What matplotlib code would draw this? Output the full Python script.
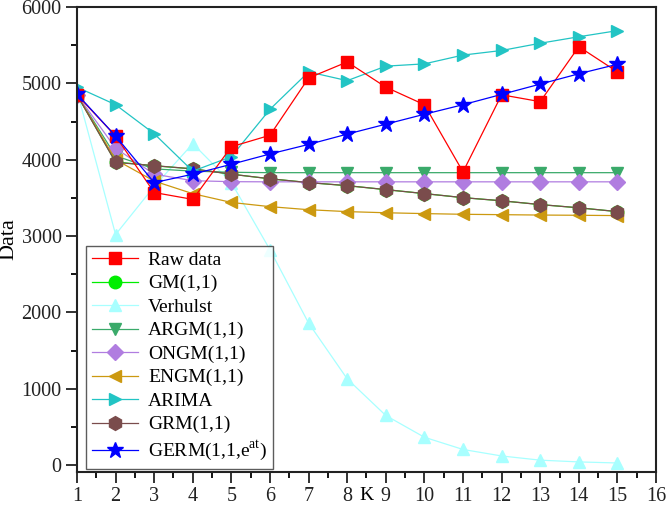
import numpy as np
import matplotlib
matplotlib.use('Agg')
import matplotlib.pyplot as plt
from matplotlib.ticker import MultipleLocator

plt.rcParams['font.family'] = ['Liberation Serif', 'DejaVu Serif']
plt.rcParams['mathtext.fontset'] = 'custom'
plt.rcParams['mathtext.rm'] = 'Liberation Serif'

K = np.arange(1, 16)

raw = [4850, 4310, 3570, 3480, 4170, 4320, 5070, 5280, 4950, 4720, 3840, 4850, 4760, 5480, 5150]
gm = [4850, 3970, 3920, 3880, 3810, 3750, 3700, 3660, 3608, 3556, 3503, 3462, 3412, 3370, 3320]
verhulst = [4900, 3020, 3650, 4210, 3700, 2820, 1860, 1130, 650, 365, 205, 120, 65, 42, 28]
argm = [4850, 4050, 3880, 3850, 3835, 3830, 3830, 3830, 3830, 3830, 3830, 3830, 3830, 3830, 3830]
ongm = [4850, 4150, 3810, 3725, 3712, 3710, 3710, 3710, 3710, 3710, 3710, 3710, 3710, 3710, 3710]
engm = [4850, 4000, 3720, 3555, 3440, 3385, 3345, 3320, 3305, 3294, 3285, 3280, 3275, 3272, 3268]
arima = [4950, 4720, 4340, 3850, 4040, 4660, 5150, 5035, 5225, 5255, 5370, 5430, 5525, 5610, 5690]
grm = [4850, 3965, 3922, 3880, 3810, 3750, 3700, 3660, 3608, 3556, 3503, 3462, 3412, 3370, 3320]
germ = [4860, 4310, 3700, 3810, 3940, 4075, 4200, 4335, 4465, 4595, 4720, 4855, 4990, 5125, 5250]

series = [
    ('Raw data', raw, 's', '#ff0000'),
    ('GM(1,1)', gm, 'o', '#00ee00'),
    ('Verhulst', verhulst, '^', '#a8ffff'),
    ('ARGM(1,1)', argm, 'v', '#3aaa6a'),
    ('ONGM(1,1)', ongm, 'D', '#b07de0'),
    ('ENGM(1,1)', engm, '<', '#cc9910'),
    ('ARIMA', arima, '>', '#22c4c4'),
    ('GRM(1,1)', grm, 'h', '#7a4c4c'),
    (r'GERM(1,1,e$^{\mathrm{at}}$)', germ, '*', '#0000ff'),
]

fig = plt.figure(figsize=(6.66, 5.09), dpi=100)
ax = fig.add_axes([0.1156, 0.0727, 0.8694, 0.9136])

# draw order so raw data / GERM sit on top like the original
order = [2, 1, 3, 4, 5, 7, 6, 0, 8]
lines = {}
for i in order:
    name, y, m, c = series[i]
    ms = 9
    if m == '*':
        ms = 12
    elif m == 'D':
        ms = 8
    elif m == 'h':
        ms = 10
    ln, = ax.plot(K, y, marker=m, color=c, lw=0.9, ms=ms, mec=c, label=name)
    lines[i] = ln

ax.set_xlim(1, 16)
ax.set_ylim(-90, 6000)
ax.xaxis.set_major_locator(MultipleLocator(1))
ax.xaxis.set_minor_locator(MultipleLocator(0.5))
ax.yaxis.set_major_locator(MultipleLocator(1000))
ax.yaxis.set_minor_locator(MultipleLocator(500))
ax.tick_params(which='major', direction='out', length=8, width=1.3, labelsize=14.5, colors='#222222')
ax.tick_params(which='minor', direction='out', length=4, width=1.3)
ax.tick_params(axis='x', pad=3)
ax.tick_params(axis='y', pad=3)
for s in ax.spines.values():
    s.set_linewidth(1.5)
    s.set_color('#222222')

ax.set_xlabel('K', fontsize=14, labelpad=-14)
ax.set_ylabel('Data', fontsize=16, labelpad=2)

leg = ax.legend([lines[i] for i in range(9)], [s[0] for s in series],
                loc='lower left', bbox_to_anchor=(0.015, 0.006), borderaxespad=0,
                fontsize=14, frameon=True, fancybox=False, handlelength=2.4,
                labelspacing=0.3, borderpad=0.3, handletextpad=0.5)
leg.get_frame().set_edgecolor('#333333')
leg.get_frame().set_linewidth(1.0)

fig.savefig('out.png', dpi=100)
